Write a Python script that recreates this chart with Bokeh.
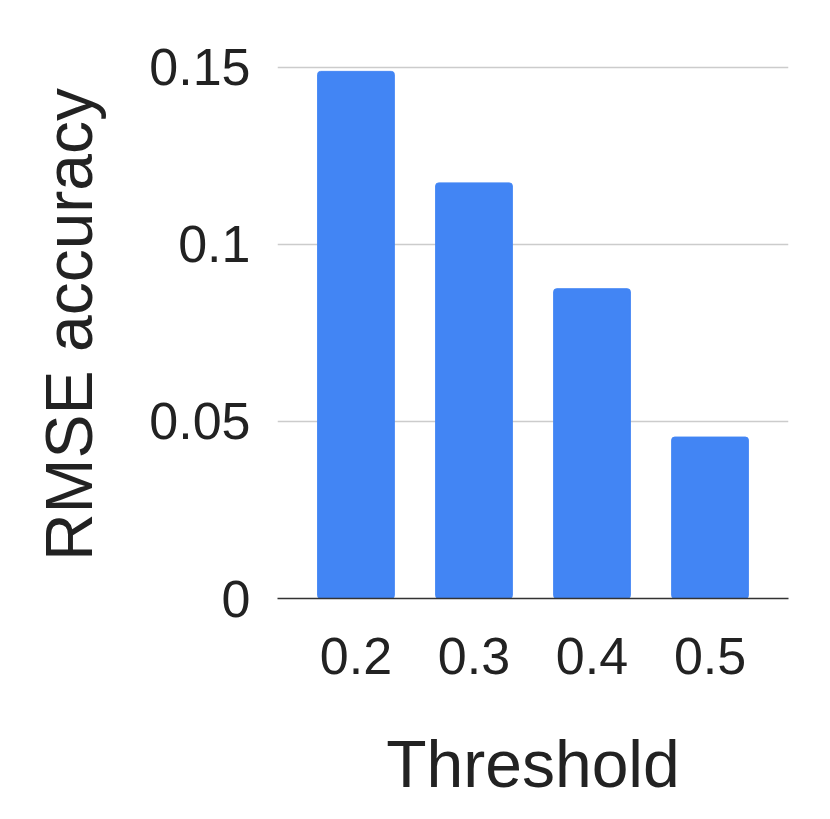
from bokeh.plotting import figure
from bokeh.models import FactorRange, Range1d, FixedTicker, CustomJSTickFormatter, ColumnDataSource
from bokeh.embed import file_html
from bokeh.resources import INLINE

thresholds = ["0.2", "0.3", "0.4", "0.5"]
rmse = [0.1489, 0.1174, 0.0875, 0.0456]
y_ticks = [0, 0.05, 0.1, 0.15]

src = ColumnDataSource(dict(x=thresholds, top=rmse))

p = figure(width=814, height=803, output_backend="svg", toolbar_location=None,
           x_range=FactorRange(*thresholds, range_padding=0.165, range_padding_units="absolute"),
           y_range=Range1d(0, 0.1548),
           min_border_left=277, min_border_right=26, min_border_top=50, min_border_bottom=203)
p.outline_line_color = None
p.background_fill_color = "white"

p.vbar(x="x", top="top", width=0.65, source=src, color="#4285F4", border_radius=3)

FONT = "Liberation Sans"
# y axis
p.yaxis.ticker = FixedTicker(ticks=y_ticks)
p.yaxis.formatter = CustomJSTickFormatter(code="return tick.toString();")
p.yaxis.axis_line_color = None
p.yaxis.major_tick_line_color = None
p.yaxis.minor_tick_line_color = None
p.yaxis.major_label_text_font = FONT
p.yaxis.major_label_text_font_size = "52px"
p.yaxis.major_label_text_color = "#222222"
p.yaxis.major_label_standoff = 21
p.yaxis.axis_label = "RMSE accuracy"
p.yaxis.axis_label_text_font = FONT
p.yaxis.axis_label_text_font_size = "66px"
p.yaxis.axis_label_text_font_style = "normal"
p.yaxis.axis_label_text_color = "#222222"
p.yaxis.axis_label_standoff = 40

# x axis
p.xaxis.axis_line_color = "#333333"
p.xaxis.axis_line_width = 1.5
p.xaxis.major_tick_line_color = None
p.xaxis.minor_tick_line_color = None
p.xaxis.major_label_text_font = FONT
p.xaxis.major_label_text_font_size = "52px"
p.xaxis.major_label_text_color = "#222222"
p.xaxis.major_label_standoff = 33
p.xaxis.axis_label = "Threshold"
p.xaxis.axis_label_text_font = FONT
p.xaxis.axis_label_text_font_size = "66px"
p.xaxis.axis_label_text_font_style = "normal"
p.xaxis.axis_label_text_color = "#222222"
p.xaxis.axis_label_standoff = 50

p.xgrid.grid_line_color = None
p.ygrid.grid_line_color = "#cccccc"
p.ygrid.grid_line_width = 1.5

open("out.html", "w").write(file_html(p, INLINE))
